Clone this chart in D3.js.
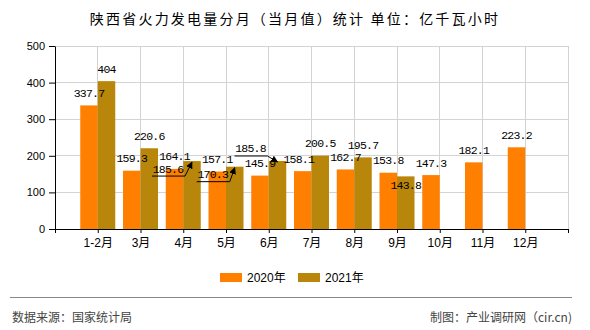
<!DOCTYPE html>
<html><head><meta charset="utf-8">
<script src="https://cdn.jsdelivr.net/npm/d3@7"></script>
<style>
body{margin:0;background:#fff;}
svg{display:block;}
</style></head>
<body><svg id="c" width="590" height="330"></svg>
<script>
const categories = ["1-2月","3月","4月","5月","6月","7月","8月","9月","10月","11月","12月"];
const values2020 = [337.7,159.3,164.1,157.1,145.9,158.1,162.7,153.8,147.3,182.1,223.2];
const values2021 = [404,220.6,185.6,170.3,185.8,200.5,195.7,143.8,null,null,null];
const seriesNames = ["2020年","2021年"];
const yTicks = [0,100,200,300,400,500];
const titleText = "陕西省火力发电量分月（当月值）统计 单位：亿千瓦小时";
const sourceText = "数据来源：国家统计局";
const creditText = "制图：产业调研网（cir.cn)";

// label adjustments (layout only): [series, index, dx, dy, arrow]
const labelShifts = [
  [1,2,-24,20,true],
  [1,3,-22,20,true],
  [1,4,-27,0,true],
  [1,7,0,21,false],
  [0,5,-4,0,false]
];

const colors = ["#FF8000","#B8860B"];
const svg = d3.select("#c");
const m = {l:55, r:568, t:46, b:229};
const CJK = "'Liberation Sans','Noto Sans CJK SC',sans-serif";

const x = d3.scaleLinear().domain([0, categories.length+1]).range([m.l, m.r]);
const y = d3.scaleLinear().domain([0,500]).range([m.b, m.t]);
const bw = 17.5;

// title
svg.append("text").attr("x",295).attr("y",24).attr("text-anchor","middle")
  .attr("font-family","'Noto Sans CJK SC',sans-serif").attr("font-size",14)
  .attr("letter-spacing","2.2px").attr("fill","#000").text(titleText);

// grid
const g = svg.append("g");
g.selectAll("line.h").data(yTicks.filter(d=>d>0)).enter().append("line")
  .attr("x1",m.l).attr("x2",m.r).attr("y1",d=>y(d)).attr("y2",d=>y(d))
  .attr("stroke","#d3d3d3").attr("stroke-width",1).attr("shape-rendering","crispEdges");
const vTicks = d3.range(1, categories.length+2);
g.selectAll("line.v").data(vTicks).enter().append("line")
  .attr("x1",d=>x(d)).attr("x2",d=>x(d)).attr("y1",m.t).attr("y2",m.b)
  .attr("stroke","#d3d3d3").attr("stroke-width",1).attr("shape-rendering","crispEdges");

// bars
const series = [values2020, values2021];
series.forEach((vals, s) => {
  svg.append("g").selectAll("rect").data(vals.map((v,i)=>({v,i})).filter(d=>d.v!=null))
    .enter().append("rect")
    .attr("x", d => s===0 ? x(d.i+1)-bw : x(d.i+1))
    .attr("width", bw)
    .attr("y", d => y(d.v))
    .attr("height", d => y(0)-y(d.v))
    .attr("fill", colors[s]);
});

// axes
const yAxis = d3.axisLeft(y).tickValues(yTicks).tickSize(6).tickSizeOuter(0).tickFormat(d3.format("d"));
const ya = svg.append("g").attr("transform",`translate(${m.l},0)`).call(yAxis);
ya.selectAll("text").attr("font-family","'Liberation Sans',sans-serif").attr("font-size",11).attr("fill","#000").attr("dx","-1");
ya.selectAll("line,path").attr("stroke","#000");

const xAxis = d3.axisBottom(x).tickValues(d3.range(0, categories.length+2)).tickSize(4).tickSizeOuter(0)
  .tickFormat(d => (d>=1 && d<=categories.length) ? categories[d-1] : "");
const xa = svg.append("g").attr("transform",`translate(0,${m.b})`).call(xAxis);
xa.selectAll("text").attr("font-family",CJK).attr("font-size",12).attr("fill","#000").attr("dy","0.9em");
xa.selectAll("line,path").attr("stroke","#000");

// arrow marker
svg.append("defs").append("marker").attr("id","arr").attr("viewBox","0 0 10 10")
  .attr("refX",9).attr("refY",5).attr("markerWidth",7).attr("markerHeight",7).attr("orient","auto")
  .append("path").attr("d","M0,0 L10,5 L0,10 z").attr("fill","#000");

// labels
const lab = svg.append("g");
series.forEach((vals, s) => {
  vals.forEach((v,i) => {
    if (v==null) return;
    const bx = s===0 ? x(i+1)-bw/2 : x(i+1)+bw/2;
    const by = y(v);
    const sh = labelShifts.find(a=>a[0]===s && a[1]===i);
    const dx = sh ? sh[2] : 0, dy = sh ? sh[3] : 0;
    const lx = bx+dx, ly = by-12+dy;
    if (sh && sh[4]) {
      lab.append("path")
        .attr("d", `M${lx-16},${ly+7} L${lx+17},${ly+7} L${bx},${by+1}`)
        .attr("fill","none").attr("stroke","#000").attr("stroke-width",1)
        .attr("marker-end","url(#arr)");
    }
    lab.append("text").attr("x",lx).attr("y",ly).attr("text-anchor","middle")
      .attr("dominant-baseline","central")
      .attr("font-family","'Liberation Mono',monospace").attr("font-size",11.5)
      .attr("letter-spacing","-0.8px").attr("fill","#000").text(String(v));
  });
});

// legend
const leg = svg.append("g");
const legX = [220, 298];
seriesNames.forEach((n,s)=>{
  leg.append("rect").attr("x",legX[s]).attr("y",273).attr("width",22).attr("height",9).attr("fill",colors[s]);
  leg.append("text").attr("x",legX[s]+27).attr("y",278).attr("dominant-baseline","central")
    .attr("font-family",CJK).attr("font-size",12).attr("fill","#000").text(n);
});

// footer
svg.append("line").attr("x1",10).attr("x2",572).attr("y1",297.5).attr("y2",297.5)
  .attr("stroke","#888").attr("stroke-width",1.2);
svg.append("text").attr("x",12).attr("y",316).attr("dominant-baseline","central")
  .attr("font-family","'Noto Sans CJK SC',sans-serif").attr("font-size",12).attr("fill","#444").text(sourceText);
svg.append("text").attr("x",572).attr("y",316).attr("text-anchor","end").attr("dominant-baseline","central")
  .attr("font-family","'Noto Sans CJK SC',sans-serif").attr("font-size",12).attr("fill","#444").text(creditText);
</script></body></html>
